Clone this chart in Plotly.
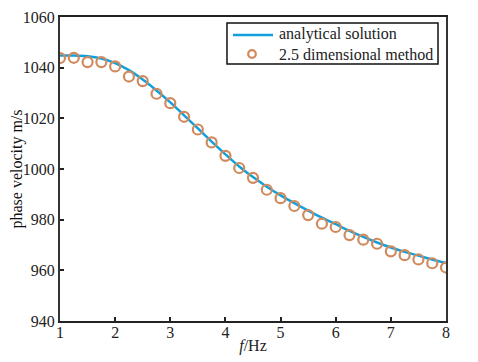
import plotly.graph_objects as go

freq_curve = [1.0, 1.25, 1.5, 1.75, 2.0, 2.25, 2.5, 2.75, 3.0, 3.25, 3.5, 3.75, 4.0, 4.25,
              4.5, 4.75, 5.0, 5.25, 5.5, 5.75, 6.0, 6.25, 6.5, 6.75, 7.0, 7.25, 7.5, 7.75, 8.0]
analytical = [1044.8, 1044.8, 1044.5, 1043.6, 1041.8, 1039.0, 1035.3, 1031.0, 1026.3, 1021.2,
              1016.0, 1010.8, 1005.8, 1001.0, 996.8, 993.0, 989.6, 986.5, 983.6, 980.8,
              978.2, 975.6, 973.2, 971.0, 969.0, 967.3, 965.8, 964.3, 962.9]
freq_pts = freq_curve
method_25d = [1043.8, 1043.9, 1042.2, 1042.2, 1040.5, 1036.5, 1034.7, 1029.7, 1026.0, 1020.6,
              1015.6, 1010.5, 1005.2, 1000.4, 996.5, 991.8, 988.5, 985.4, 981.8, 978.4,
              977.1, 973.9, 972.1, 970.5, 967.5, 966.0, 964.3, 962.8, 961.1]
x_ticks = [1, 2, 3, 4, 5, 6, 7, 8]
y_ticks = [940, 960, 980, 1000, 1020, 1040, 1060]
legend_names = ["analytical solution", "2.5 dimensional method"]

FONT = "Liberation Serif"
LINE_C = "#12A0DA"
MARK_C = "#D08A5E"

fig = go.Figure()
fig.add_trace(go.Scatter(x=freq_curve, y=analytical, mode="lines", name=legend_names[0],
                         line=dict(color=LINE_C, width=2.5, shape="spline")))
fig.add_trace(go.Scatter(x=freq_pts, y=method_25d, mode="markers", name=legend_names[1],
                         marker=dict(symbol="circle-open", size=10, color=MARK_C,
                                     line=dict(width=2.2, color=MARK_C))))

# compact boxed legend (drawn in paper coordinates)
shapes = [
    dict(type="rect", xref="paper", yref="paper", x0=0.4326, x1=0.9793, y0=0.8454, y1=0.9803,
         line=dict(color="#111", width=1.5), fillcolor="white", layer="above"),
    dict(type="line", xref="paper", yref="paper", x0=0.4482, x1=0.5518, y0=0.9408, y1=0.9408,
         line=dict(color=LINE_C, width=2.5), layer="above"),
    dict(type="circle", xref="paper", yref="paper", x0=0.4974 - 0.0098, x1=0.4974 + 0.0098,
         y0=0.8783 - 0.0125, y1=0.8783 + 0.0125, line=dict(color=MARK_C, width=2.2), layer="above"),
]
annotations = [
    dict(xref="paper", yref="paper", x=0.5622, y=0.9440, xanchor="left", yanchor="middle",
         text=legend_names[0], showarrow=False, font=dict(family=FONT, size=16, color="#222")),
    dict(xref="paper", yref="paper", x=0.5622, y=0.8780, xanchor="left", yanchor="middle",
         text=legend_names[1], showarrow=False, font=dict(family=FONT, size=16, color="#222")),
]

# page body has an 8px margin, so the figure is sized/shifted to compensate
fig.update_layout(
    width=470, height=354,
    margin=dict(l=52, r=32, t=9, b=41),
    paper_bgcolor="white", plot_bgcolor="white",
    font=dict(family=FONT, size=14, color="#222"),
    showlegend=False,
    shapes=shapes, annotations=annotations,
)
fig.update_xaxes(range=[1, 8], tickvals=x_ticks, ticktext=[str(v) for v in x_ticks],
                 showgrid=False, zeroline=False, showline=True, linecolor="#222", linewidth=2,
                 mirror=True, ticks="inside", ticklen=4, tickwidth=1.5, tickcolor="#222",
                 automargin=False, ticklabelstandoff=-4,
                 tickfont=dict(family=FONT, size=16, color="#222"),
                 title=dict(text="<i>f</i>/Hz", font=dict(family=FONT, size=16, color="#222"), standoff=0))
fig.update_yaxes(range=[940, 1060], tickvals=y_ticks, ticktext=[str(v) for v in y_ticks],
                 showgrid=False, zeroline=False, showline=True, linecolor="#333", linewidth=2,
                 mirror=True, ticks="inside", ticklen=4, tickwidth=1.5, tickcolor="#222",
                 automargin=False,
                 tickfont=dict(family=FONT, size=16, color="#222"),
                 title=dict(text="phase velocity m/s", font=dict(family=FONT, size=16, color="#111"), standoff=0))

fig.write_html("out.html")
